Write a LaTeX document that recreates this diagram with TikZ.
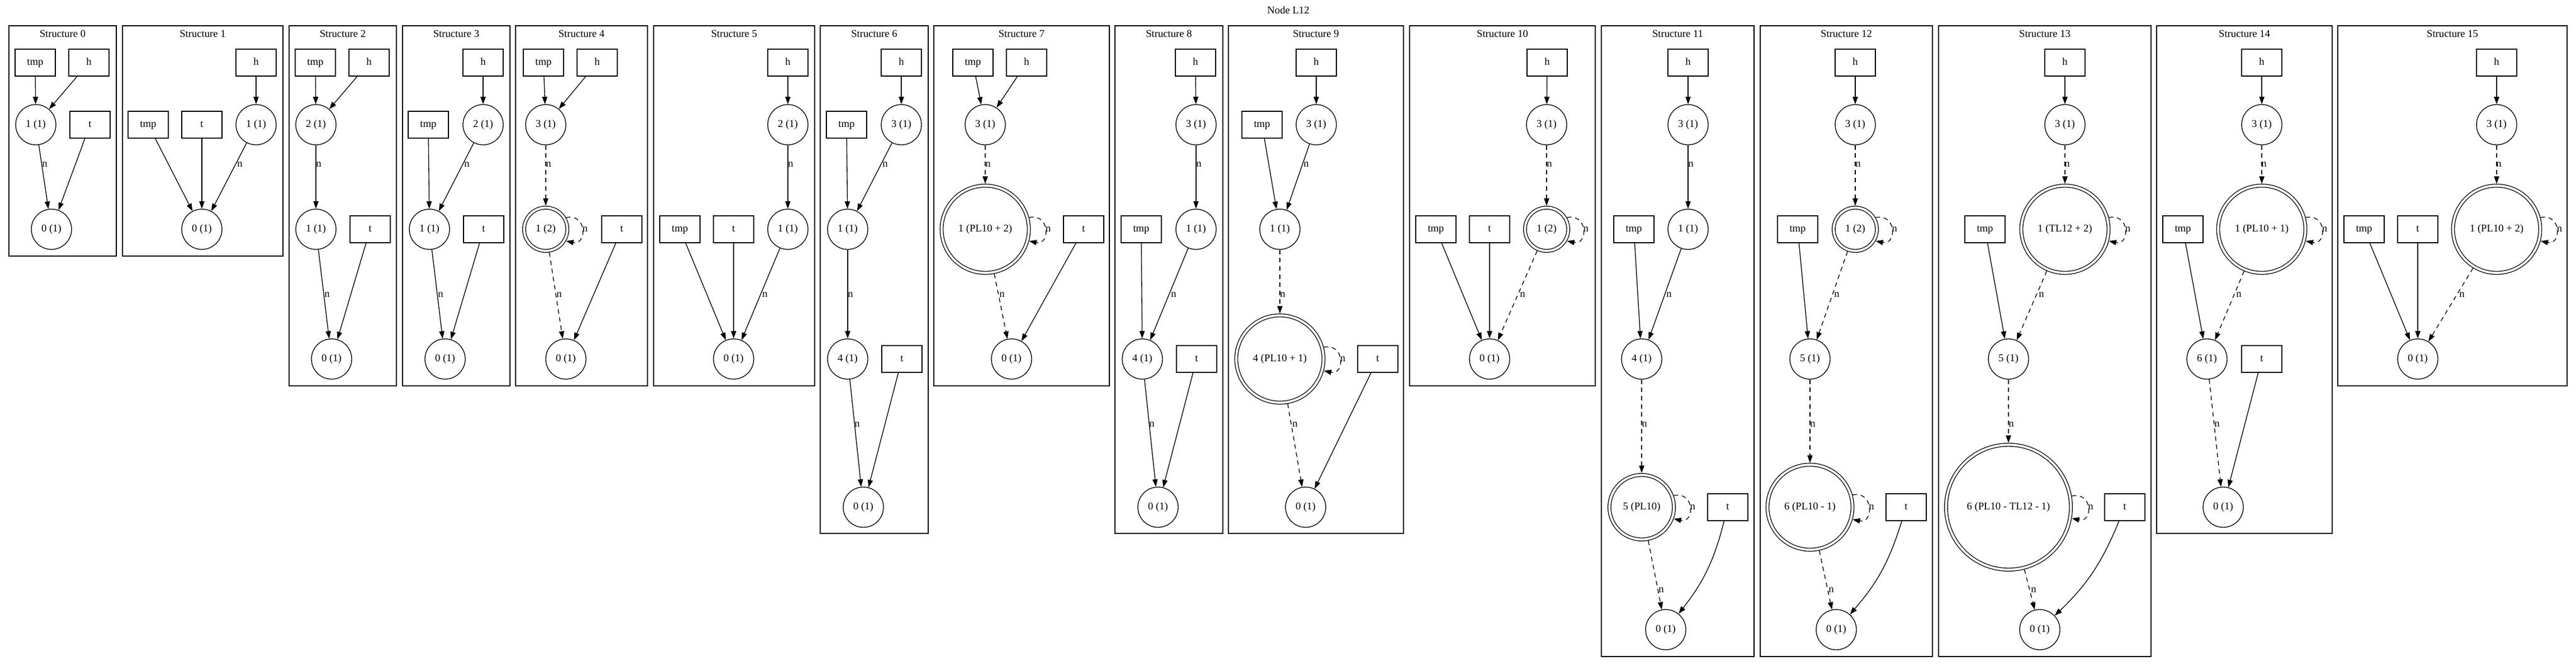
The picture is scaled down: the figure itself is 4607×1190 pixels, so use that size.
\documentclass[tikz,border=0pt]{standalone}
\usepackage{fontspec}
\setmainfont{Liberation Serif}
\usetikzlibrary{arrows.meta}
\newcommand\gvf{\fontsize{14pt}{16pt}\selectfont}
\tikzset{
  gvbox/.style={draw, line width=1pt, rectangle, minimum width=54pt, minimum height=36pt, inner sep=0pt, font=\gvf, text height=9.5pt, text depth=2.5pt},
  gvcir/.style={draw, line width=1pt, circle, minimum size=54pt, inner sep=0pt, font=\gvf, text height=9.5pt, text depth=2.5pt},
  gvdbl/.style={draw, line width=1pt, circle, double, double distance=3pt, inner sep=0pt, outer sep=2.5pt, font=\gvf, text height=9.5pt, text depth=2.5pt},
  gvlbl/.style={inner sep=0pt, font=\gvf, text height=9.5pt, text depth=2.5pt},
  gvframe/.style={draw, line width=1pt},
  gvedge/.style={-{Triangle[length=10pt,width=7pt]}, line width=1pt},
  gvdash/.style={gvedge, dash pattern=on 6pt off 5pt},
  gvloop/.style={gvdash},
}
\begin{document}
\begin{tikzpicture}[x=0.75pt,y=-0.75pt]
\fill[white] (0,0) rectangle (4607,1190);
\useasboundingbox (0,0) rectangle (4607,1190);

\node[gvlbl] (title) at (2304,20) {Node L12};

% ---------- Structure 0
\draw[gvframe] (16,46) rectangle (208,458);
\node[gvlbl] (s0ti) at (112,62) {Structure 0};
\node[gvbox] (s0tmp) at (63,112) {tmp};
\node[gvbox] (s0h) at (159,112) {h};
\node[gvcir] (s0n1) at (64,223) {1 (1)};
\node[gvbox] (s0t) at (161,223) {t};
\node[gvcir] (s0n0) at (92,410) {0 (1)};
\draw[gvedge] (s0tmp) -- (s0n1);
\draw[gvedge] (s0h) -- (s0n1);
\draw[gvedge] (s0n1) -- (s0n0);
\node[gvlbl] (s0l1) at (80,294) {n};
\draw[gvedge] (s0t) -- (s0n0);

% ---------- Structure 1
\draw[gvframe] (219,46) rectangle (506,458);
\node[gvlbl] (s1ti) at (362.5,62) {Structure 1};
\node[gvbox] (s1h) at (458,112) {h};
\node[gvbox] (s1tmp) at (265,223) {tmp};
\node[gvbox] (s1t) at (361,223) {t};
\node[gvcir] (s1n1) at (458,223) {1 (1)};
\node[gvcir] (s1n0) at (361,410) {0 (1)};
\draw[gvedge] (s1h) -- (s1n1);
\draw[gvedge] (s1tmp) -- (s1n0);
\draw[gvedge] (s1t) -- (s1n0);
\draw[gvedge] (s1n1) -- (s1n0);
\node[gvlbl] (s1l1) at (429,294) {n};

% ---------- Structure 2
\draw[gvframe] (517,46) rectangle (709,690);
\node[gvlbl] (s2ti) at (613,62) {Structure 2};
\node[gvbox] (s2tmp) at (564,112) {tmp};
\node[gvbox] (s2h) at (660,112) {h};
\node[gvcir] (s2n2) at (565,223) {2 (1)};
\node[gvcir] (s2n1) at (565,410) {1 (1)};
\node[gvbox] (s2t) at (662,410) {t};
\node[gvcir] (s2n0) at (593,642) {0 (1)};
\draw[gvedge] (s2tmp) -- (s2n2);
\draw[gvedge] (s2h) -- (s2n2);
\draw[gvedge] (s2n2) -- (s2n1);
\node[gvlbl] (s2l1) at (570,294) {n};
\draw[gvedge] (s2n1) -- (s2n0);
\node[gvlbl] (s2l2) at (585,527) {n};
\draw[gvedge] (s2t) -- (s2n0);

% ---------- Structure 3
\draw[gvframe] (720,46) rectangle (912,690);
\node[gvlbl] (s3ti) at (816,62) {Structure 3};
\node[gvbox] (s3h) at (864,112) {h};
\node[gvbox] (s3tmp) at (766,223) {tmp};
\node[gvcir] (s3n2) at (864,223) {2 (1)};
\node[gvcir] (s3n1) at (768,410) {1 (1)};
\node[gvbox] (s3t) at (865,410) {t};
\node[gvcir] (s3n0) at (796,642) {0 (1)};
\draw[gvedge] (s3h) -- (s3n2);
\draw[gvedge] (s3tmp) -- (s3n1);
\draw[gvedge] (s3n2) -- (s3n1);
\node[gvlbl] (s3l1) at (835,294) {n};
\draw[gvedge] (s3n1) -- (s3n0);
\node[gvlbl] (s3l2) at (788,527) {n};
\draw[gvedge] (s3t) -- (s3n0);

% ---------- Structure 4
\draw[gvframe] (922,46) rectangle (1158,690);
\node[gvlbl] (s4ti) at (1040,62) {Structure 4};
\node[gvbox] (s4tmp) at (972,112) {tmp};
\node[gvbox] (s4h) at (1068,112) {h};
\node[gvcir] (s4n3) at (976,223) {3 (1)};
\node[gvdbl, minimum size=58pt] (s4d1) at (976,410) {1 (2)};
\node[gvbox] (s4t) at (1112,410) {t};
\node[gvcir] (s4n0) at (1012,642) {0 (1)};
\draw[gvedge] (s4tmp) -- (s4n3);
\draw[gvedge] (s4h) -- (s4n3);
\draw[gvdash] (s4n3) -- (s4d1);
\node[gvlbl] (s4l1) at (981,294) {n};
\draw[gvloop] (s4d1.30) .. controls +(38,-8) and +(38,8) .. node[gvlbl, anchor=west] (s4lp) {n} (s4d1.-30);
\draw[gvdash] (s4d1) -- (s4n0);
\node[gvlbl] (s4l2) at (1000,527) {n};
\draw[gvedge] (s4t) -- (s4n0);

% ---------- Structure 5
\draw[gvframe] (1169,46) rectangle (1457,690);
\node[gvlbl] (s5ti) at (1313,62) {Structure 5};
\node[gvbox] (s5h) at (1409,112) {h};
\node[gvcir] (s5n2) at (1409,223) {2 (1)};
\node[gvbox] (s5tmp) at (1216,410) {tmp};
\node[gvbox] (s5t) at (1312,410) {t};
\node[gvcir] (s5n1) at (1409,410) {1 (1)};
\node[gvcir] (s5n0) at (1312,642) {0 (1)};
\draw[gvedge] (s5h) -- (s5n2);
\draw[gvedge] (s5n2) -- (s5n1);
\node[gvlbl] (s5l1) at (1414,294) {n};
\draw[gvedge] (s5tmp) -- (s5n0);
\draw[gvedge] (s5t) -- (s5n0);
\draw[gvedge] (s5n1) -- (s5n0);
\node[gvlbl] (s5l2) at (1368,527) {n};

% ---------- Structure 6
\draw[gvframe] (1467,46) rectangle (1660,954);
\node[gvlbl] (s6ti) at (1563.5,62) {Structure 6};
\node[gvbox] (s6h) at (1612,112) {h};
\node[gvbox] (s6tmp) at (1514,223) {tmp};
\node[gvcir] (s6n3) at (1612,223) {3 (1)};
\node[gvcir] (s6n1) at (1516,410) {1 (1)};
\node[gvcir] (s6n4) at (1516,642) {4 (1)};
\node[gvbox] (s6t) at (1613,642) {t};
\node[gvcir] (s6n0) at (1544,907) {0 (1)};
\draw[gvedge] (s6h) -- (s6n3);
\draw[gvedge] (s6tmp) -- (s6n1);
\draw[gvedge] (s6n3) -- (s6n1);
\node[gvlbl] (s6l1) at (1583,294) {n};
\draw[gvedge] (s6n1) -- (s6n4);
\node[gvlbl] (s6l2) at (1521,527) {n};
\draw[gvedge] (s6n4) -- (s6n0);
\node[gvlbl] (s6l3) at (1533,759) {n};
\draw[gvedge] (s6t) -- (s6n0);

% ---------- Structure 7
\draw[gvframe] (1670,46) rectangle (1984,690);
\node[gvlbl] (s7ti) at (1827,62) {Structure 7};
\node[gvbox] (s7tmp) at (1740,112) {tmp};
\node[gvbox] (s7h) at (1836,112) {h};
\node[gvcir] (s7n3) at (1762,223) {3 (1)};
\node[gvdbl, minimum size=117pt] (s7d1) at (1762,410) {1 (PL10 + 2)};
\node[gvbox] (s7t) at (1938,410) {t};
\node[gvcir] (s7n0) at (1809,642) {0 (1)};
\draw[gvedge] (s7tmp) -- (s7n3);
\draw[gvedge] (s7h) -- (s7n3);
\draw[gvdash] (s7n3) -- (s7d1);
\node[gvlbl] (s7l1) at (1767,294) {n};
\draw[gvloop] (s7d1.15) .. controls +(38,-8) and +(38,8) .. node[gvlbl, anchor=west] (s7lp) {n} (s7d1.-15);
\draw[gvdash] (s7d1) -- (s7n0);
\node[gvlbl] (s7l2) at (1792,527) {n};
\draw[gvedge] (s7t) -- (s7n0);

% ---------- Structure 8
\draw[gvframe] (1994,46) rectangle (2187,954);
\node[gvlbl] (s8ti) at (2090.5,62) {Structure 8};
\node[gvbox] (s8h) at (2138,112) {h};
\node[gvcir] (s8n3) at (2139,223) {3 (1)};
\node[gvbox] (s8tmp) at (2041,410) {tmp};
\node[gvcir] (s8n1) at (2139,410) {1 (1)};
\node[gvcir] (s8n4) at (2043,642) {4 (1)};
\node[gvbox] (s8t) at (2140,642) {t};
\node[gvcir] (s8n0) at (2071,907) {0 (1)};
\draw[gvedge] (s8h) -- (s8n3);
\draw[gvedge] (s8n3) -- (s8n1);
\node[gvlbl] (s8l1) at (2144,294) {n};
\draw[gvedge] (s8tmp) -- (s8n4);
\draw[gvedge] (s8n1) -- (s8n4);
\node[gvlbl] (s8l2) at (2099,527) {n};
\draw[gvedge] (s8n4) -- (s8n0);
\node[gvlbl] (s8l3) at (2060,759) {n};
\draw[gvedge] (s8t) -- (s8n0);

% ---------- Structure 9
\draw[gvframe] (2197,46) rectangle (2510,954);
\node[gvlbl] (s9ti) at (2353.5,62) {Structure 9};
\node[gvbox] (s9h) at (2354,112) {h};
\node[gvbox] (s9tmp) at (2257,223) {tmp};
\node[gvcir] (s9n3) at (2354,223) {3 (1)};
\node[gvcir] (s9n1) at (2289,410) {1 (1)};
\node[gvdbl, minimum size=117pt] (s9d4) at (2289,642) {4 (PL10 + 1)};
\node[gvbox] (s9t) at (2464,642) {t};
\node[gvcir] (s9n0) at (2335,907) {0 (1)};
\draw[gvedge] (s9h) -- (s9n3);
\draw[gvedge] (s9tmp) -- (s9n1);
\draw[gvedge] (s9n3) -- (s9n1);
\node[gvlbl] (s9l1) at (2336,294) {n};
\draw[gvdash] (s9n1) -- (s9d4);
\node[gvlbl] (s9l2) at (2294,527) {n};
\draw[gvloop] (s9d4.15) .. controls +(38,-8) and +(38,8) .. node[gvlbl, anchor=west] (s9lp) {n} (s9d4.-15);
\draw[gvdash] (s9d4) -- (s9n0);
\node[gvlbl] (s9l3) at (2316,759) {n};
\draw[gvedge] (s9t) -- (s9n0);

% ---------- Structure 10
\draw[gvframe] (2521,46) rectangle (2853,690);
\node[gvlbl] (s10ti) at (2687,62) {Structure 10};
\node[gvbox] (s10h) at (2767,112) {h};
\node[gvcir] (s10n3) at (2766,223) {3 (1)};
\node[gvbox] (s10tmp) at (2568,410) {tmp};
\node[gvbox] (s10t) at (2664,410) {t};
\node[gvdbl, minimum size=58pt] (s10d1) at (2766,410) {1 (2)};
\node[gvcir] (s10n0) at (2664,642) {0 (1)};
\draw[gvedge] (s10h) -- (s10n3);
\draw[gvdash] (s10n3) -- (s10d1);
\node[gvlbl] (s10l1) at (2771,294) {n};
\draw[gvloop] (s10d1.30) .. controls +(38,-8) and +(38,8) .. node[gvlbl, anchor=west] (s10lp) {n} (s10d1.-30);
\draw[gvedge] (s10tmp) -- (s10n0);
\draw[gvedge] (s10t) -- (s10n0);
\draw[gvdash] (s10d1) -- (s10n0);
\node[gvlbl] (s10l2) at (2723,527) {n};

% ---------- Structure 11
\draw[gvframe] (2864,46) rectangle (3137,1174);
\node[gvlbl] (s11ti) at (3000.5,62) {Structure 11};
\node[gvbox] (s11h) at (3019,112) {h};
\node[gvcir] (s11n3) at (3019,223) {3 (1)};
\node[gvbox] (s11tmp) at (2922,410) {tmp};
\node[gvcir] (s11n1) at (3019,410) {1 (1)};
\node[gvcir] (s11n4) at (2936,642) {4 (1)};
\node[gvdbl, minimum size=86.5pt] (s11d5) at (2936,907) {5 (PL10)};
\node[gvbox] (s11t) at (3090,907) {t};
\node[gvcir] (s11n0) at (2979,1126) {0 (1)};
\draw[gvedge] (s11h) -- (s11n3);
\draw[gvedge] (s11n3) -- (s11n1);
\node[gvlbl] (s11l1) at (3024,294) {n};
\draw[gvedge] (s11tmp) -- (s11n4);
\draw[gvedge] (s11n1) -- (s11n4);
\node[gvlbl] (s11l2) at (2985,527) {n};
\draw[gvdash] (s11n4) -- (s11d5);
\node[gvlbl] (s11l3) at (2941,759) {n};
\draw[gvloop] (s11d5.20) .. controls +(38,-8) and +(38,8) .. node[gvlbl, anchor=west] (s11lp) {n} (s11d5.-20);
\draw[gvdash] (s11d5) -- (s11n0);
\node[gvlbl] (s11l4) at (2971,1055) {n};
\draw[gvedge] (s11t) to[bend left=12] (s11n0);

% ---------- Structure 12
\draw[gvframe] (3148,46) rectangle (3456,1174);
\node[gvlbl] (s12ti) at (3302,62) {Structure 12};
\node[gvbox] (s12h) at (3318,112) {h};
\node[gvcir] (s12n3) at (3318,223) {3 (1)};
\node[gvbox] (s12tmp) at (3215,410) {tmp};
\node[gvdbl, minimum size=58pt] (s12d1) at (3318,410) {1 (2)};
\node[gvcir] (s12n5) at (3237,642) {5 (1)};
\node[gvdbl, minimum size=114pt] (s12d6) at (3237,907) {6 (PL10 - 1)};
\node[gvbox] (s12t) at (3409,907) {t};
\node[gvcir] (s12n0) at (3284,1126) {0 (1)};
\draw[gvedge] (s12h) -- (s12n3);
\draw[gvdash] (s12n3) -- (s12d1);
\node[gvlbl] (s12l1) at (3323,294) {n};
\draw[gvloop] (s12d1.30) .. controls +(38,-8) and +(38,8) .. node[gvlbl, anchor=west] (s12lp1) {n} (s12d1.-30);
\draw[gvedge] (s12tmp) -- (s12n5);
\draw[gvdash] (s12d1) -- (s12n5);
\node[gvlbl] (s12l2) at (3285,527) {n};
\draw[gvdash] (s12n5) -- (s12d6);
\node[gvlbl] (s12l3) at (3242,759) {n};
\draw[gvloop] (s12d6.16) .. controls +(38,-8) and +(38,8) .. node[gvlbl, anchor=west] (s12lp2) {n} (s12d6.-16);
\draw[gvdash] (s12d6) -- (s12n0);
\node[gvlbl] (s12l4) at (3275,1055) {n};
\draw[gvedge] (s12t) to[bend left=12] (s12n0);

% ---------- Structure 13
\draw[gvframe] (3467,46) rectangle (3847,1174);
\node[gvlbl] (s13ti) at (3657,62) {Structure 13};
\node[gvbox] (s13h) at (3693,112) {h};
\node[gvcir] (s13n3) at (3693,223) {3 (1)};
\node[gvbox] (s13tmp) at (3550,410) {tmp};
\node[gvdbl, minimum size=117pt] (s13d1) at (3693,410) {1 (TL12 + 2)};
\node[gvcir] (s13n5) at (3592,642) {5 (1)};
\node[gvdbl, minimum size=167.5pt] (s13d6) at (3592,907) {6 (PL10 - TL12 - 1)};
\node[gvbox] (s13t) at (3800,907) {t};
\node[gvcir] (s13n0) at (3648,1126) {0 (1)};
\draw[gvedge] (s13h) -- (s13n3);
\draw[gvdash] (s13n3) -- (s13d1);
\node[gvlbl] (s13l1) at (3697,294) {n};
\draw[gvloop] (s13d1.15) .. controls +(38,-8) and +(38,8) .. node[gvlbl, anchor=west] (s13lp1) {n} (s13d1.-15);
\draw[gvedge] (s13tmp) -- (s13n5);
\draw[gvdash] (s13d1) -- (s13n5);
\node[gvlbl] (s13l2) at (3651,527) {n};
\draw[gvdash] (s13n5) -- (s13d6);
\node[gvlbl] (s13l3) at (3597,759) {n};
\draw[gvloop] (s13d6.10.5) .. controls +(38,-8) and +(38,8) .. node[gvlbl, anchor=west] (s13lp2) {n} (s13d6.-10.5);
\draw[gvdash] (s13d6) -- (s13n0);
\node[gvlbl] (s13l4) at (3637,1055) {n};
\draw[gvedge] (s13t) to[bend left=12] (s13n0);

% ---------- Structure 14
\draw[gvframe] (3857,46) rectangle (4171,954);
\node[gvlbl] (s14ti) at (4014,62) {Structure 14};
\node[gvbox] (s14h) at (4045,112) {h};
\node[gvcir] (s14n3) at (4045,223) {3 (1)};
\node[gvbox] (s14tmp) at (3904,410) {tmp};
\node[gvdbl, minimum size=117pt] (s14d1) at (4045,410) {1 (PL10 + 1)};
\node[gvcir] (s14n6) at (3947,642) {6 (1)};
\node[gvbox] (s14t) at (4045,642) {t};
\node[gvcir] (s14n0) at (3976,907) {0 (1)};
\draw[gvedge] (s14h) -- (s14n3);
\draw[gvdash] (s14n3) -- (s14d1);
\node[gvlbl] (s14l1) at (4049,294) {n};
\draw[gvloop] (s14d1.15) .. controls +(38,-8) and +(38,8) .. node[gvlbl, anchor=west] (s14lp) {n} (s14d1.-15);
\draw[gvedge] (s14tmp) -- (s14n6);
\draw[gvdash] (s14d1) -- (s14n6);
\node[gvlbl] (s14l2) at (4004,527) {n};
\draw[gvdash] (s14n6) -- (s14n0);
\node[gvlbl] (s14l3) at (3965,759) {n};
\draw[gvedge] (s14t) -- (s14n0);

% ---------- Structure 15
\draw[gvframe] (4181,46) rectangle (4591,690);
\node[gvlbl] (s15ti) at (4386,62) {Structure 15};
\node[gvbox] (s15h) at (4465,112) {h};
\node[gvcir] (s15n3) at (4465,223) {3 (1)};
\node[gvbox] (s15tmp) at (4228,410) {tmp};
\node[gvbox] (s15t) at (4324,410) {t};
\node[gvdbl, minimum size=117pt] (s15d1) at (4465,410) {1 (PL10 + 2)};
\node[gvcir] (s15n0) at (4324,642) {0 (1)};
\draw[gvedge] (s15h) -- (s15n3);
\draw[gvdash] (s15n3) -- (s15d1);
\node[gvlbl] (s15l1) at (4469,294) {n};
\draw[gvloop] (s15d1.15) .. controls +(38,-8) and +(38,8) .. node[gvlbl, anchor=west] (s15lp) {n} (s15d1.-15);
\draw[gvedge] (s15tmp) -- (s15n0);
\draw[gvedge] (s15t) -- (s15n0);
\draw[gvdash] (s15d1) -- (s15n0);
\node[gvlbl] (s15l2) at (4403,527) {n};
\end{tikzpicture}
\end{document}
